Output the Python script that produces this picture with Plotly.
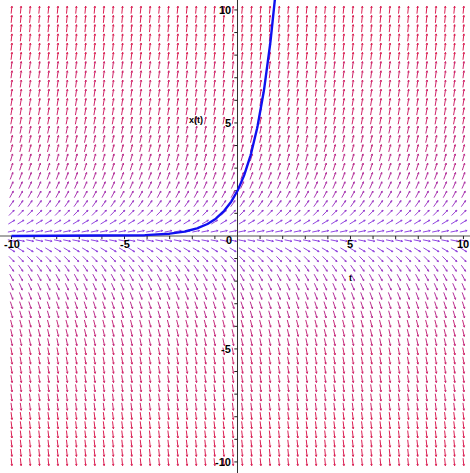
import numpy as np
import plotly.graph_objects as go

# Direction field of dx/dt = x on a 50 x 50 grid, with the solution through x(0) = 2
t_grid = np.linspace(-10, 10, 50)
x_grid = np.linspace(-10, 10, 50)
x_initial = 2.0
axis_ticks = list(range(-10, 11))
x_tick_labels = {-10: "-10", -5: "-5", 5: "5", 10: "10"}
y_tick_labels = {10: "10", 5: "5", -5: "-5", -10: "-10"}


def slope(t, x):
    return x


T_RANGE = [-10.51, 10.29]
X_RANGE = [-10.49, 10.44]

arrow_len = 0.33       # data units (equal scale on both axes)
head_len = 0.08
head_ang = np.radians(25)

purple = np.array([145, 72, 228])
red = np.array([238, 22, 48])
n_bins = 24
bins = [dict(x=[], y=[]) for _ in range(n_bins)]

for tv in t_grid:
    for xv in x_grid:
        s = slope(tv, xv)
        ang = np.arctan2(s, 1.0)
        dx, dy = np.cos(ang), np.sin(ang)
        x1, y1 = tv - dx * arrow_len / 2, xv - dy * arrow_len / 2
        x2, y2 = tv + dx * arrow_len / 2, xv + dy * arrow_len / 2
        frac = abs(ang) / (np.pi / 2)
        b = min(n_bins - 1, int(frac * n_bins))
        seg = bins[b]
        seg["x"] += [x1, x2, None]
        seg["y"] += [y1, y2, None]
        for sgn in (1, -1):
            a = ang + np.pi + sgn * head_ang
            seg["x"] += [x2, x2 + head_len * np.cos(a), None]
            seg["y"] += [y2, y2 + head_len * np.sin(a), None]

fig = go.Figure()
for i, seg in enumerate(bins):
    if not seg["x"]:
        continue
    f = ((i + 0.5) / n_bins) ** 3.5
    c = (1 - f) * purple + f * red
    fig.add_trace(go.Scatter(
        x=seg["x"], y=seg["y"], mode="lines",
        line=dict(color="rgb(%d,%d,%d)" % tuple(c.astype(int)), width=1.0),
        hoverinfo="skip"))

# axes through the origin
fig.add_trace(go.Scatter(x=[T_RANGE[0], T_RANGE[1]], y=[0, 0], mode="lines",
                         line=dict(color="#8a8a8a", width=1.6), hoverinfo="skip"))
fig.add_trace(go.Scatter(x=[0, 0], y=[X_RANGE[0], X_RANGE[1]], mode="lines",
                         line=dict(color="#303030", width=1), hoverinfo="skip"))

tx, ty = [], []
for v in axis_ticks:
    if v == 0:
        continue
    tx += [v, v, None]
    ty += [0, -0.14, None]
    tx += [0, -0.14, None]
    ty += [v, v, None]
fig.add_trace(go.Scatter(x=tx, y=ty, mode="lines",
                         line=dict(color="#202020", width=1), hoverinfo="skip"))

# solution curve
t_sol = np.linspace(-10, np.log(X_RANGE[1] / x_initial), 400)
x_sol = x_initial * np.exp(t_sol)
fig.add_trace(go.Scatter(x=t_sol, y=x_sol, mode="lines",
                         line=dict(color="#1010f0", width=2.4), hoverinfo="skip"))

lab_font = dict(family="Liberation Sans", size=11, color="black")
ann = []
for v, txt in x_tick_labels.items():
    ann.append(dict(x=v, y=-0.35, text="<b>%s</b>" % txt, showarrow=False,
                    xanchor="center", yanchor="middle", font=lab_font))
for v, txt in y_tick_labels.items():
    ann.append(dict(x=-0.22, y=v, text="<b>%s</b>" % txt, showarrow=False,
                    xanchor="right", yanchor="middle", font=lab_font))
ann.append(dict(x=-0.15, y=-0.2, text="<b>0</b>", showarrow=False,
                xanchor="right", yanchor="middle", font=lab_font))
ann.append(dict(x=-1.85, y=5.15, text="<b>x(t)</b>", showarrow=False,
                xanchor="center", yanchor="middle",
                font=dict(family="Liberation Sans", size=9, color="black")))
ann.append(dict(x=5.0, y=-1.85, text="<b>t</b>", showarrow=False,
                xanchor="center", yanchor="middle",
                font=dict(family="Liberation Sans", size=9, color="black")))

fig.update_layout(
    width=470, height=473,
    margin=dict(l=0, r=0, t=0, b=0),
    paper_bgcolor="white", plot_bgcolor="white",
    showlegend=False,
    xaxis=dict(range=T_RANGE, visible=False, fixedrange=True),
    yaxis=dict(range=X_RANGE, visible=False, fixedrange=True),
    annotations=ann,
)

fig.write_html("out.html")
